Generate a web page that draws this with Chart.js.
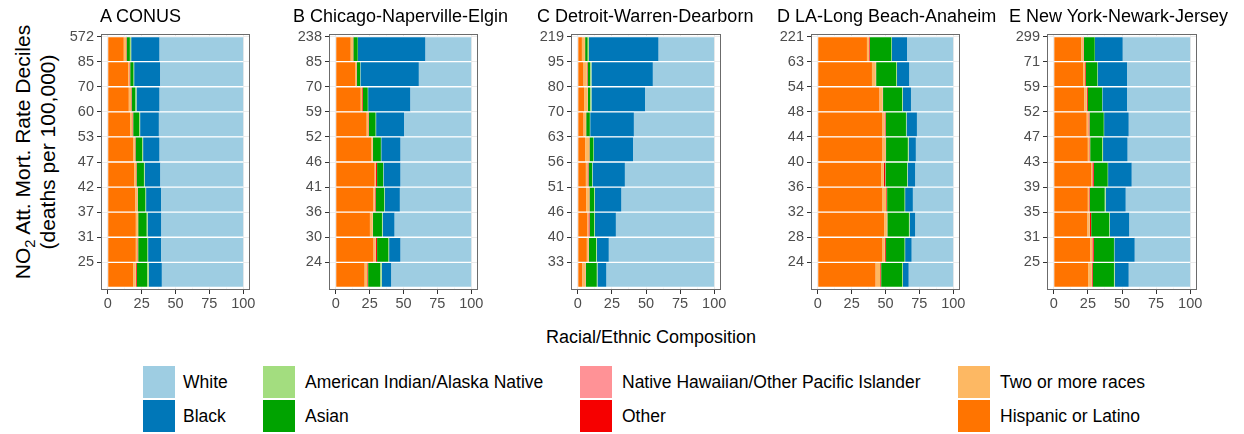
<!DOCTYPE html>
<html>
<head>
<meta charset="utf-8">
<script src="https://cdn.jsdelivr.net/npm/chart.js@4.4.1/dist/chart.umd.min.js"></script>
<style>
  html, body { margin: 0; padding: 0; background: #ffffff; }
  body { width: 1244px; height: 434px; position: relative; overflow: hidden;
         font-family: "Liberation Sans", Arial, Helvetica, sans-serif; color: #000; }
  .panel { position: absolute; }
  .ptitle { position: absolute; top: 5px; font-size: 18px; line-height: 22px; white-space: nowrap; z-index: 2; }
  .ytitle { position: absolute; left: 35px; top: 152px; width: 320px; text-align: center;
            font-size: 21px; line-height: 25px; white-space: nowrap;
            transform: translate(-50%, -50%) rotate(-90deg); }
  .ytitle sub { font-size: 0.7em; line-height: 0; vertical-align: -0.35em; }
  .xtitle { position: absolute; left: 651px; top: 337px; transform: translate(-50%, -50%);
            font-size: 18px; white-space: nowrap; }
  .lkey { position: absolute; width: 32px; height: 32px; }
  .ltext { position: absolute; font-size: 17.5px; line-height: 32px; white-space: nowrap; }
</style>
</head>
<body>
<div class="ytitle">NO<sub>2</sub> Att. Mort. Rate Deciles<br>(deaths per 100,000)</div>
<div class="xtitle">Racial/Ethnic Composition</div>
<script>
// ---------------- DATA ----------------
// stacking order (left to right)
const categories = ['Hispanic or Latino', 'Two or more races', 'Other',
  'Native Hawaiian/Other Pacific Islander', 'Asian', 'American Indian/Alaska Native', 'Black', 'White'];

const panelTitles = ['A CONUS', 'B Chicago-Naperville-Elgin', 'C Detroit-Warren-Dearborn',
  'D LA-Long Beach-Anaheim', 'E New York-Newark-Jersey'];

// decile tick labels, top to bottom
const decilesA = ['572', '85', '70', '60', '53', '47', '42', '37', '31', '25'];
const decilesB = ['238', '85', '70', '59', '52', '46', '41', '36', '30', '24'];
const decilesC = ['219', '95', '80', '70', '63', '56', '51', '46', '40', '33'];
const decilesD = ['221', '63', '54', '48', '44', '40', '36', '32', '28', '24'];
const decilesE = ['299', '71', '59', '52', '47', '43', '39', '35', '31', '25'];

// percentages per decile, top to bottom
// A CONUS
const A_hispanic = [11.8, 15.0, 15.5, 16.5, 18.7, 19.5, 20.4, 20.7, 20.7, 18.7];
const A_twoPlus  = [1.7, 1.0, 1.7, 1.7, 1.3, 1.4, 1.5, 1.5, 1.2, 2.0];
const A_other    = [0.3, 0.5, 0.3, 0.5, 0.4, 0.3, 0.2, 0.2, 0.5, 0.7];
const A_nhpi     = [0.1, 0.1, 0.1, 0.1, 0.1, 0.1, 0.1, 0.1, 0.1, 0.1];
const A_asian    = [2.4, 2.4, 2.8, 4.4, 4.9, 5.4, 5.6, 6.2, 6.8, 7.6];
const A_aian     = [1.0, 0.5, 0.8, 0.7, 0.7, 0.5, 0.5, 0.7, 0.5, 1.2];
const A_black    = [20.9, 19.2, 17.0, 13.8, 12.1, 11.6, 11.1, 10.1, 9.6, 9.6];
const A_white    = [61.8, 61.3, 61.8, 62.3, 61.8, 61.2, 60.6, 60.5, 60.6, 60.1];
// B Chicago
const B_hispanic = [11.0, 14.2, 18.4, 22.8, 26.0, 28.7, 27.5, 25.2, 27.9, 21.3];
const B_twoPlus  = [1.7, 1.0, 1.0, 1.2, 1.2, 0.7, 1.2, 2.0, 1.5, 2.0];
const B_other    = [0.2, 0.2, 0.5, 0.3, 0.2, 1.0, 0.7, 0.2, 1.0, 0.5];
const B_nhpi     = [0.1, 0.1, 0.1, 0.1, 0.1, 0.1, 0.1, 0.1, 0.1, 0.1];
const B_asian    = [3.2, 2.5, 3.6, 5.0, 5.8, 4.4, 6.3, 6.6, 8.4, 9.0];
const B_aian     = [0.2, 0.2, 0.3, 0.4, 0.3, 0.3, 0.3, 0.5, 0.5, 1.0];
const B_black    = [49.8, 43.1, 31.2, 20.7, 14.2, 12.6, 11.2, 8.8, 8.4, 7.1];
const B_white    = [33.8, 38.7, 44.9, 49.5, 52.2, 52.2, 52.7, 56.6, 52.2, 59.0];
// C Detroit
const C_hispanic = [3.0, 4.2, 4.6, 4.2, 5.4, 5.9, 6.1, 7.1, 6.6, 3.4];
const C_twoPlus  = [2.2, 2.4, 2.5, 1.7, 2.9, 1.2, 2.2, 0.7, 1.2, 2.2];
const C_other    = [0.2, 0.5, 0.2, 0.2, 0.2, 0.7, 0.2, 0.8, 0.2, 0.2];
const C_nhpi     = [0.0, 0.1, 0.1, 0.1, 0.1, 0.1, 0.1, 0.1, 0.1, 0.1];
const C_asian    = [1.8, 1.8, 1.6, 2.6, 2.9, 2.6, 3.4, 3.3, 5.3, 8.0];
const C_aian     = [0.9, 1.0, 1.0, 0.3, 0.3, 0.3, 0.5, 0.5, 0.5, 0.5];
const C_black    = [51.1, 45.0, 39.4, 32.0, 28.8, 23.7, 19.5, 15.4, 8.8, 6.6];
const C_white    = [40.8, 45.0, 50.6, 58.9, 59.4, 65.5, 68.0, 72.1, 77.3, 79.0];
// D LA
const D_hispanic = [36.3, 40.0, 45.6, 47.8, 47.8, 46.8, 47.8, 49.0, 47.8, 42.7];
const D_twoPlus  = [1.5, 2.7, 2.2, 1.5, 2.2, 2.0, 2.7, 2.0, 1.7, 3.4];
const D_other    = [0.5, 0.2, 0.2, 0.7, 0.2, 1.0, 0.5, 0.2, 0.7, 0.5];
const D_nhpi     = [0.2, 0.2, 0.2, 0.2, 0.2, 0.2, 0.2, 0.2, 0.2, 0.2];
const D_asian    = [15.9, 14.7, 14.0, 14.9, 16.1, 15.9, 12.9, 15.9, 13.7, 15.4];
const D_aian     = [0.4, 0.7, 0.5, 0.4, 0.6, 0.4, 0.4, 0.5, 0.4, 0.7];
const D_black    = [11.1, 9.1, 6.1, 7.7, 5.3, 5.7, 5.7, 4.2, 4.8, 4.2];
const D_white    = [34.1, 32.4, 31.2, 26.8, 27.6, 28.0, 29.8, 28.0, 30.7, 32.9];
// E New York
const E_hispanic = [20.2, 21.5, 22.4, 24.1, 24.9, 27.3, 24.9, 24.6, 26.6, 25.1];
const E_twoPlus  = [1.5, 1.4, 1.7, 1.3, 1.2, 1.0, 1.0, 1.7, 1.7, 2.7];
const E_other    = [0.3, 0.5, 0.8, 0.7, 0.5, 1.0, 0.4, 1.0, 1.0, 0.7];
const E_nhpi     = [0.1, 0.1, 0.1, 0.1, 0.1, 0.1, 0.1, 0.1, 0.1, 0.1];
const E_asian    = [7.9, 8.5, 10.4, 10.4, 8.7, 10.1, 10.9, 13.3, 14.7, 15.5];
const E_aian     = [0.2, 0.2, 0.2, 0.3, 0.7, 0.3, 0.7, 0.3, 0.3, 0.5];
const E_black    = [20.3, 21.5, 18.1, 18.0, 18.0, 17.3, 14.7, 14.4, 14.9, 10.3];
const E_white    = [49.5, 46.3, 46.3, 45.1, 45.9, 42.9, 47.3, 44.6, 40.7, 45.1];

const xTickValues = [0, 25, 50, 75, 100];
const xMinorValues = [12.5, 37.5, 62.5, 87.5];

// ---------------- STYLE / LAYOUT ----------------
const colors = ['#ff7400', '#fdb863', '#f60000', '#ff9296', '#00a300', '#a3dd7f', '#0077b8', '#9ecde2'];
const legendOrder = [[7, 6], [5, 4], [3, 2], [1, 0]]; // columns: [row1, row2]
const legendColX = [[143, 183], [263, 305], [580, 622], [958, 1000]];
const legendRowY = [366, 400];
const panelX = [[101, 250], [329, 478], [571, 721], [811, 960], [1047, 1197]];
const titleX = [100, 293, 537, 777, 1009];
const PANEL_TOP = 34, PANEL_BOTTOM = 290;
const FONT = '"Liberation Sans", Arial, Helvetica, sans-serif';

const panels = [
  { deciles: decilesA, series: [A_hispanic, A_twoPlus, A_other, A_nhpi, A_asian, A_aian, A_black, A_white] },
  { deciles: decilesB, series: [B_hispanic, B_twoPlus, B_other, B_nhpi, B_asian, B_aian, B_black, B_white] },
  { deciles: decilesC, series: [C_hispanic, C_twoPlus, C_other, C_nhpi, C_asian, C_aian, C_black, C_white] },
  { deciles: decilesD, series: [D_hispanic, D_twoPlus, D_other, D_nhpi, D_asian, D_aian, D_black, D_white] },
  { deciles: decilesE, series: [E_hispanic, E_twoPlus, E_other, E_nhpi, E_asian, E_aian, E_black, E_white] },
];

const framePlugin = {
  id: 'frame',
  afterDraw(chart) {
    const { ctx, chartArea: a } = chart;
    ctx.save();
    ctx.strokeStyle = '#6b6b6b';
    ctx.lineWidth = 1;
    ctx.strokeRect(Math.round(a.left) + 0.5, Math.round(a.top) + 0.5,
                   Math.round(a.right - a.left) - 1, Math.round(a.bottom - a.top) - 1);
    ctx.restore();
  }
};

function zeroPadding(s) {
  s.paddingTop = 0; s.paddingBottom = 0; s.paddingLeft = 0; s.paddingRight = 0;
}

panels.forEach((p, i) => {
  const [L, R] = panelX[i];
  const YW = 60, PADR = 18, PADT = 16, XH = 30;
  const div = document.createElement('div');
  div.className = 'panel';
  const w = (R - L) + YW + PADR;
  const h = PADT + (PANEL_BOTTOM - PANEL_TOP) + XH;
  div.style.left = (L - YW) + 'px';
  div.style.top = (PANEL_TOP - PADT) + 'px';
  div.style.width = w + 'px';
  div.style.height = h + 'px';
  const c = document.createElement('canvas');
  c.width = w; c.height = h;
  c.style.width = w + 'px'; c.style.height = h + 'px';
  div.appendChild(c);
  document.body.appendChild(div);

  const t = document.createElement('div');
  t.className = 'ptitle';
  t.style.left = titleX[i] + 'px';
  t.textContent = panelTitles[i];
  document.body.appendChild(t);

  const n = p.deciles.length;
  const datasets = categories.map((name, k) => ({
    label: name,
    data: p.series[k].map((v, j) => ({ x: v, y: n - 0.5 - j })),
    backgroundColor: colors[k],
    borderColor: '#ffffff',
    borderWidth: { top: 1, bottom: 1, left: 0, right: 0 },
    borderSkipped: false,
    barPercentage: 1,
    categoryPercentage: 1
  }));

  new Chart(c, {
    type: 'bar',
    data: { datasets },
    plugins: [framePlugin],
    options: {
      indexAxis: 'y',
      responsive: false,
      animation: false,
      devicePixelRatio: 1,
      layout: { padding: { top: PADT, right: PADR, left: 0, bottom: 0 } },
      plugins: { legend: { display: false }, tooltip: { enabled: false }, title: { display: false } },
      scales: {
        x: {
          type: 'linear', stacked: true, min: -5, max: 105, offset: false,
          afterBuildTicks: s => { s.ticks = xTickValues.concat(xMinorValues).sort((a, b) => a - b).map(v => ({ value: v })); },
          afterFit: s => { s.height = XH; zeroPadding(s); },
          ticks: {
            autoSkip: false, maxRotation: 0, padding: 1, color: '#4d4d4d',
            font: { size: 14.5, family: FONT },
            callback: v => (xTickValues.includes(v) ? String(v) : '')
          },
          grid: {
            color: '#ebebeb',
            lineWidth: ctx => (ctx.tick && xTickValues.includes(ctx.tick.value) ? 1 : 0.5),
            tickColor: ctx => (ctx.tick && xTickValues.includes(ctx.tick.value) ? '#333333' : 'rgba(0,0,0,0)'),
            tickLength: 4
          },
          border: { display: false }
        },
        y: {
          type: 'linear', stacked: true, min: -0.1, max: n + 0.1, offset: false,
          afterBuildTicks: s => { s.ticks = p.deciles.map((d, j) => ({ value: n - j })); },
          afterFit: s => { s.width = YW; zeroPadding(s); },
          ticks: {
            autoSkip: false, padding: 3, color: '#4d4d4d',
            font: { size: 14.5, family: FONT },
            callback: v => p.deciles[n - v]
          },
          grid: { color: '#ebebeb', tickColor: '#333333', tickLength: 4, lineWidth: 1, offset: false },
          border: { display: false }
        }
      }
    }
  });
});

// legend
legendOrder.forEach((col, ci) => {
  col.forEach((k, ri) => {
    const key = document.createElement('div');
    key.className = 'lkey';
    key.style.left = legendColX[ci][0] + 'px';
    key.style.top = legendRowY[ri] + 'px';
    key.style.background = colors[k];
    document.body.appendChild(key);
    const tx = document.createElement('div');
    tx.className = 'ltext';
    tx.style.left = legendColX[ci][1] + 'px';
    tx.style.top = legendRowY[ri] + 'px';
    tx.textContent = categories[k];
    document.body.appendChild(tx);
  });
});
</script>
</body>
</html>
